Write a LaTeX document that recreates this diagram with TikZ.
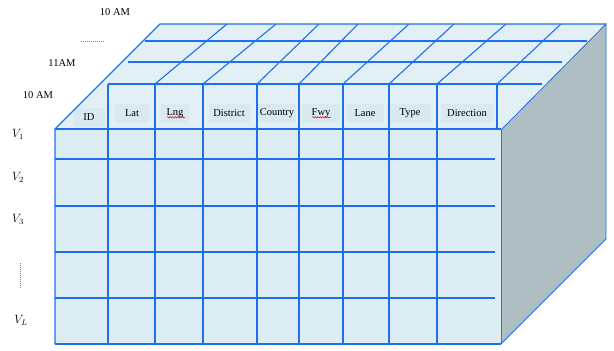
\documentclass[tikz,border=0pt]{standalone}
\usepackage{fontspec}
\setmainfont{Liberation Serif}
\usetikzlibrary{decorations.pathmorphing}
\definecolor{gridblue}{HTML}{1E6FF0}
\definecolor{facefill}{HTML}{DCEDF3}
\definecolor{topfill}{HTML}{E2F0F6}
\definecolor{sidefill}{HTML}{AEBEC2}
\definecolor{labelbg}{HTML}{D8E9F0}
\definecolor{dotblue}{HTML}{4A86E8}
\begin{document}
\begin{tikzpicture}[x=1pt,y=-1pt,
  grid/.style={draw=gridblue, line width=1.1pt},
  thinedge/.style={draw=gridblue, line width=0.8pt},
  lbl/.style={font=\fontsize{10.5}{12}\selectfont, inner sep=1pt},
  hdr/.style={lbl, fill=labelbg, minimum height=19pt},
  vlbl/.style={font=\fontsize{11.5}{13}\selectfont, inner sep=1pt},
  spell/.style={draw=red, line width=0.5pt, decorate, decoration={snake, amplitude=0.7pt, segment length=2.5pt}}]
\useasboundingbox (0,0) rectangle (614,351);
% faces
\fill[topfill] (55,129) -- (160,24) -- (606,24) -- (501,130) -- cycle;
\fill[facefill] (55,129) rectangle (501,344);
\fill[sidefill] (501,130) -- (606,24) -- (606,239) -- (501,344) -- cycle;
% header labels
\node[hdr, minimum width=31pt] (hid) at (89,117) {ID};
\node[hdr, minimum width=36pt] (hlat) at (132,113) {Lat};
\node[hdr, minimum width=28pt] (hlng) at (175,113) {Lng};
\node[hdr, minimum width=41pt] (hdis) at (229,113) {District};
\node[hdr, minimum width=38pt] (hcou) at (277,113) {Country};
\node[hdr, minimum width=38pt] (hfwy) at (321,113) {Fwy};
\node[hdr, minimum width=38pt] (hlan) at (365,113) {Lane};
\node[hdr, minimum width=42pt] (htyp) at (410,113) {Type};
\node[hdr, minimum width=53pt] (hdir) at (467,113) {Direction};
\draw[spell] ([xshift=-8pt,yshift=-2pt]hlng.base) -- ([xshift=10pt,yshift=-2pt]hlng.base);
\draw[spell] ([xshift=-9pt,yshift=-2pt]hfwy.base) -- ([xshift=10pt,yshift=-2pt]hfwy.base);
% top face lines
\draw[grid] (145,41) -- (587,41);
\draw[grid] (128,62) -- (562,62);
\draw[grid] (108,84) -- (542,84);
\foreach \a/\b in {155/227,203/276,257/319,299/358,343/409,389/454,437/506,497/561}
  \draw[grid] (\a,84) -- (\b,24);
% front face lines
\foreach \x in {108,155,203,257,299,343,389,437}
  \draw[grid] (\x,84) -- (\x,344);
\draw[grid] (497,84) -- (497,129);
\foreach \y in {159,206,252,298}
  \draw[grid] (55,\y) -- (495,\y);
% outlines
\draw[grid] (55,344) -- (55,129) -- (160,24) -- (606,24);
\draw[grid] (55,129) -- (501,129);
\draw[grid] (55,344) -- (501,344);
\draw[thinedge] (501,130) -- (501,344);
\draw[thinedge] (501,130) -- (606,24) -- (606,239) -- (501,344);
% time labels
\node[lbl] (t10a) at (115,12) {10 AM};
\node[lbl] (t11) at (62,63) {11AM};
\node[lbl] (t10b) at (38,95) {10 AM};
\coordinate (hdots1) at (81,41);
\coordinate (hdots2) at (104,41);
\draw[dotblue, line width=1pt, dash pattern=on 1pt off 1pt] (hdots1) -- (hdots2);
% row labels
\node[vlbl] (v1) at (18,134) {$V_1$};
\node[vlbl] (v2) at (18,177) {$V_2$};
\node[vlbl] (v3) at (18,219) {$V_3$};
\coordinate (vdots1) at (20,263);
\coordinate (vdots2) at (20,289);
\draw[dotblue, line width=1pt, dash pattern=on 1pt off 1pt] (vdots1) -- (vdots2);
\node[vlbl] (vl) at (21,320) {$V_L$};
\end{tikzpicture}
\end{document}
